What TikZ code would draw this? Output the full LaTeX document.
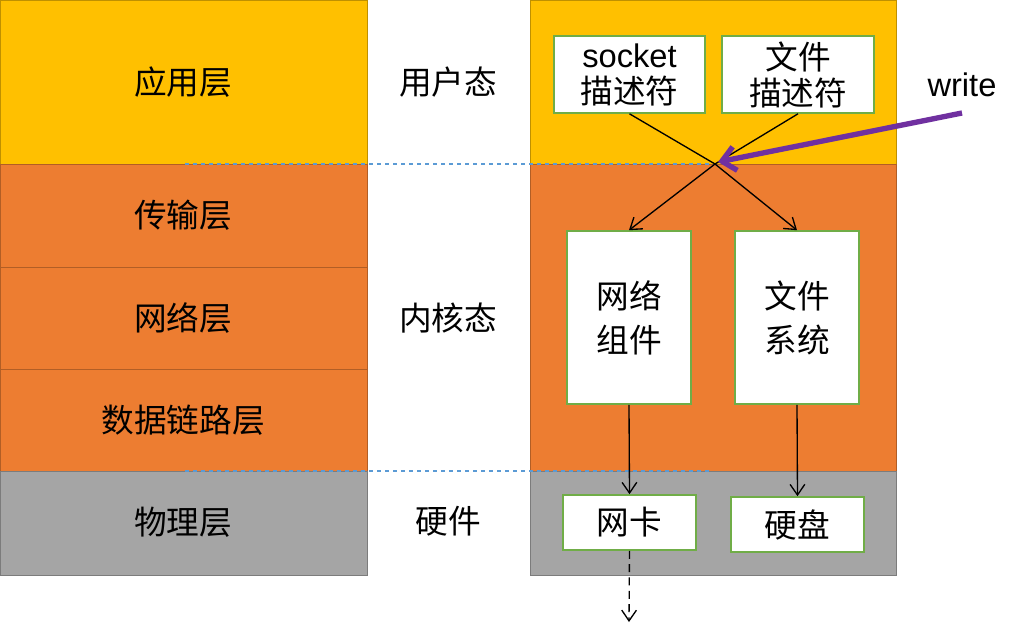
\documentclass[tikz,border=0pt]{standalone}
\usepackage{fontspec}
\setmainfont{Liberation Sans}
\newfontfamily\cjk{Noto Sans CJK SC}
\usetikzlibrary{arrows.meta}
\definecolor{yel}{HTML}{FFC000}
\definecolor{ora}{HTML}{ED7D31}
\definecolor{gry}{HTML}{A5A5A5}
\definecolor{grn}{HTML}{70AD47}
\definecolor{pur}{HTML}{7030A0}
\definecolor{sepblue}{HTML}{5B9BD5}
\begin{document}
\begin{tikzpicture}[x=0.75pt,y=-0.75pt,
  txt/.style={font=\fontsize{24.5}{28}\selectfont\cjk},
  wbox/.style={draw=grn,line width=1.2pt,fill=white,inner sep=0pt,font=\fontsize{24.5}{33}\selectfont\cjk,align=center},
  arr/.style={-{Straight Barb[length=8pt,width=11pt]},line width=1pt}]
\useasboundingbox (0,0) rectangle (1018,626);
% left column
\path[fill=yel,draw=yel!75!black] (0,0) rectangle (367,164);
\path[fill=ora,draw=ora!75!black] (0,164) rectangle (367,267);
\path[fill=ora,draw=ora!75!black] (0,267) rectangle (367,369);
\path[fill=ora,draw=ora!75!black] (0,369) rectangle (367,471);
\path[fill=gry,draw=gry!75!black] (0,471) rectangle (367,575);
\node[txt] (l1) at (183,82) {应用层};
\node[txt] (l2) at (183,215) {传输层};
\node[txt] (l3) at (183,318) {网络层};
\node[txt] (l4) at (183,420) {数据链路层};
\node[txt] (l5) at (183,522) {物理层};
% right column
\path[fill=yel,draw=yel!75!black] (530,0) rectangle (896,164);
\path[fill=ora,draw=ora!75!black] (530,164) rectangle (896,471);
\path[fill=gry,draw=gry!75!black] (530,471) rectangle (896,575);
% dashed separators
\draw[sepblue,dashed,line width=0.8pt] (185,164) -- (710,164);
\draw[sepblue,dashed,line width=0.8pt] (185,471) -- (710,471);
% middle labels
\node[txt] (m1) at (448,82) {用户态};
\node[txt] (m2) at (448,318) {内核态};
\node[txt] (m3) at (448,521) {硬件};
% boxes
\node[wbox,font=\fontsize{24.5}{27}\selectfont\cjk,minimum width=151*0.75pt,minimum height=77*0.75pt] (sock) at (629.5,74.5) {{\fontspec{Liberation Sans}socket}\\描述符};
\node[wbox,font=\fontsize{24.5}{27}\selectfont\cjk,minimum width=152*0.75pt,minimum height=77*0.75pt] (fd) at (798,74.5) {文件\\描述符};
\node[wbox,minimum width=124*0.75pt,minimum height=173*0.75pt] (net) at (629,317.5) {网络\\组件};
\node[wbox,minimum width=124*0.75pt,minimum height=173*0.75pt] (fs) at (797,317.5) {文件\\系统};
\node[wbox,minimum width=133*0.75pt,minimum height=55*0.75pt] (nic) at (629.5,522.5) {网卡};
\node[wbox,minimum width=133*0.75pt,minimum height=55*0.75pt] (disk) at (797.5,524.5) {硬盘};
\coordinate (x) at (715,164);
\coordinate (out) at (629,622);
% connectors
\draw[arr] (sock.south) -- (x) -- (fs.north);
\draw[arr] (fd.south) -- (x) -- (net.north);
\draw[arr] (net.south) -- (nic.north);
\draw[arr] (fs.south) -- (disk.north);
\draw[arr,dash pattern=on 6pt off 4pt] (nic.south) -- (out);
% write
\node[font=\fontsize{24.5}{28}\selectfont] (w) at (962,85) {write};
\coordinate (ws) at (962,113);
\draw[pur,line width=4pt,-{Straight Barb[length=10pt,width=18pt]}] (ws) -- (718,162);
\end{tikzpicture}
\end{document}
